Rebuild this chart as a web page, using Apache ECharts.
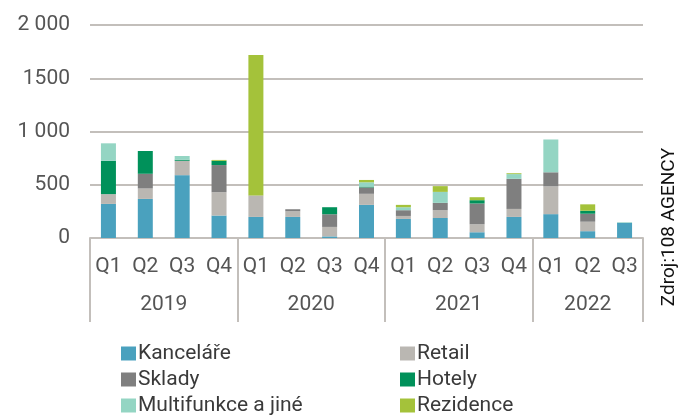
<!DOCTYPE html>
<html>
<head>
<meta charset="utf-8">
<script src="https://cdn.jsdelivr.net/npm/echarts@6/dist/echarts.min.js"></script>
<style>
  html, body { margin: 0; padding: 0; background: #fff; }
  #chart { width: 680px; height: 415px; }
</style>
</head>
<body>
<div id="chart"></div>
<script>
var quarters = ['Q1', 'Q2', 'Q3', 'Q4', 'Q1', 'Q2', 'Q3', 'Q4', 'Q1', 'Q2', 'Q3', 'Q4', 'Q1', 'Q2', 'Q3'];
var years = ['2019', '2020', '2021', '2022'];
var yearCenters = [2, 6, 10, 13.5];
var yearBounds = [0, 4, 8, 12, 15];
var yTicks = [0, 500, 1000, 1500, 2000];
var yTickLabels = ['0', '500', '1 000', '1500', '2 000'];

var kancelare = [320, 367, 590, 211, 198, 198, 15, 311, 179, 188, 54, 198, 224, 64, 143];
var retail = [92, 98, 135, 219, 202, 53, 89, 104, 28, 73, 75, 75, 261, 89, 0];
var sklady = [0, 138, 0, 255, 0, 19, 119, 60, 54, 69, 195, 283, 132, 75, 0];
var hotely = [313, 214, 10, 40, 0, 0, 66, 8, 0, 0, 31, 0, 0, 28, 0];
var multifunkce = [164, 0, 35, 0, 0, 0, 0, 40, 28, 103, 0, 44, 308, 0, 5];
var rezidence = [0, 0, 0, 8, 1318, 0, 0, 22, 22, 54, 28, 8, 0, 60, 0];

var seriesDefs = [
    { name: 'Kanceláře', data: kancelare, color: '#4aa1be' },
    { name: 'Retail', data: retail, color: '#bab7b2' },
    { name: 'Sklady', data: sklady, color: '#7f7f7f' },
    { name: 'Hotely', data: hotely, color: '#00915a' },
    { name: 'Multifunkce a jiné', data: multifunkce, color: '#94d5c3' },
    { name: 'Rezidence', data: rezidence, color: '#a4c23a' }
];

// legend slots: [left, top] for each series, two columns of three rows
var legendSlots = [[121, 343], [400, 343], [121, 369], [400, 369], [121, 395], [400, 395]];

var font = 'Roboto, sans-serif';
var lineGray = '#c3bfbb';

var myChart = echarts.init(document.getElementById('chart'));

var option = {
    animation: false,
    textStyle: { fontFamily: font },
    grid: {
        left: 90,
        right: 37,
        top: 25,
        bottom: 177
    },
    legend: seriesDefs.map(function (s, i) {
        return {
            data: [s.name],
            left: legendSlots[i][0],
            top: legendSlots[i][1],
            padding: 0,
            itemWidth: 15,
            itemHeight: 14,
            icon: 'rect',
            textStyle: { fontSize: 21, color: '#3a3a3a', fontFamily: font, padding: [0, 0, 0, -3] }
        };
    }),
    xAxis: [{
        type: 'category',
        data: quarters,
        position: 'bottom',
        axisLine: { show: true, lineStyle: { color: lineGray, width: 2 } },
        axisTick: { show: false },
        axisLabel: { fontSize: 21, color: '#555', margin: 18, fontFamily: font }
    }, {
        type: 'value',
        min: 0,
        max: 15,
        position: 'bottom',
        splitLine: { show: false },
        axisLine: { show: false },
        axisTick: {
            show: true,
            customValues: yearBounds,
            length: 84,
            lineStyle: { color: lineGray, width: 2 }
        },
        axisLabel: {
            customValues: yearCenters,
            fontSize: 21,
            color: '#555',
            margin: 56,
            fontFamily: font,
            formatter: function (v) {
                return years[yearCenters.indexOf(v)] || '';
            }
        }
    }],
    yAxis: {
        type: 'value',
        min: 0,
        max: 2000,
        interval: 500,
        axisLine: { show: false },
        axisTick: { show: false },
        splitLine: { lineStyle: { color: lineGray, width: 2 } },
        axisLabel: {
            fontSize: 21,
            color: '#555',
            margin: 20,
            fontFamily: font,
            formatter: function (v) {
                return yTickLabels[yTicks.indexOf(v)];
            }
        }
    },
    graphic: [{
        type: 'text',
        x: 669,
        y: 227,
        rotation: Math.PI / 2,
        style: {
            text: 'Zdroj:108 AGENCY',
            fontSize: 19,
            fontFamily: font,
            fill: '#111',
            align: 'center',
            verticalAlign: 'middle'
        }
    }],
    series: seriesDefs.map(function (s) {
        return {
            name: s.name,
            type: 'bar',
            stack: 'total',
            barWidth: 15,
            data: s.data,
            itemStyle: { color: s.color }
        };
    })
};

myChart.setOption(option);
</script>
</body>
</html>
